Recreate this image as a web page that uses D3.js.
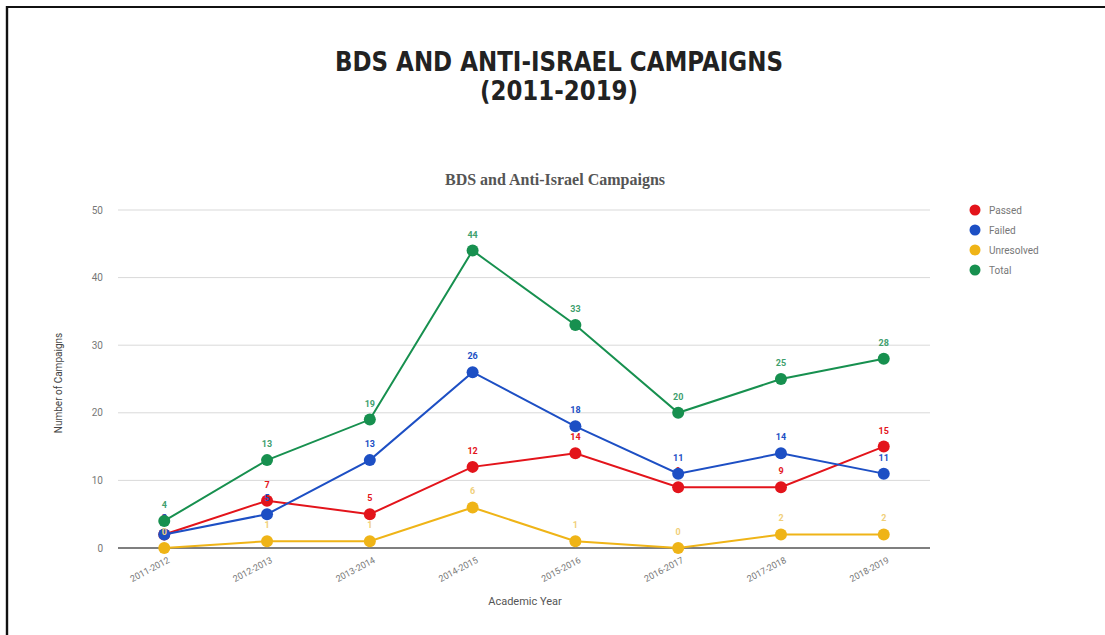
<!DOCTYPE html>
<html>
<head>
<meta charset="utf-8">
<script src="https://cdn.jsdelivr.net/npm/d3@7"></script>
<style>
  html, body { margin: 0; padding: 0; background: #fff; }
  svg { display: block; }
</style>
</head>
<body>
<svg id="chart" width="1105" height="635"></svg>
<script>
// ---- data ----
const years = ['2011-2012', '2012-2013', '2013-2014', '2014-2015', '2015-2016', '2016-2017', '2017-2018', '2018-2019'];
const passed     = [2, 7, 5, 12, 14, 9, 9, 15];
const failed     = [2, 5, 13, 26, 18, 11, 14, 11];
const unresolved = [0, 1, 1, 6, 1, 0, 2, 2];
const total      = [4, 13, 19, 44, 33, 20, 25, 28];
const yTicks     = [0, 10, 20, 30, 40, 50];

const series = [
  { name: 'Passed',     values: passed,     color: '#e3141b', label: '#e3141b' },
  { name: 'Failed',     values: failed,     color: '#1d4fc4', label: '#1d4fc4' },
  { name: 'Unresolved', values: unresolved, color: '#efb417', label: '#f0cf7a' },
  { name: 'Total',      values: total,      color: '#17904f', label: '#3fa06e' }
];

const W = 1105, H = 635;
const plot = { left: 118, right: 930, top: 210, bottom: 548 };

const svg = d3.select('#chart');

// frame (top + left only, like the cropped screenshot)
svg.append('line').attr('x1', 6).attr('x2', W).attr('y1', 7).attr('y2', 7)
  .attr('stroke', '#111').attr('stroke-width', 2);
svg.append('line').attr('x1', 7).attr('x2', 7).attr('y1', 6).attr('y2', H)
  .attr('stroke', '#111').attr('stroke-width', 2.4);

// poster title: tall condensed caps, squeezed to the widths seen in the picture
const titleFont = g => g
  .attr('text-anchor', 'middle')
  .attr('font-family', '"DejaVu Sans", sans-serif')
  .attr('font-weight', 'bold').attr('font-size', 27)
  .attr('lengthAdjust', 'spacingAndGlyphs')
  .attr('fill', '#222');
svg.append('text').call(titleFont)
  .attr('x', 559).attr('y', 71).attr('textLength', 448)
  .text('BDS AND ANTI-ISRAEL CAMPAIGNS');
svg.append('text').call(titleFont)
  .attr('x', 559).attr('y', 100).attr('textLength', 158)
  .text('(2011-2019)');

// chart title
svg.append('text')
  .attr('x', 555).attr('y', 185)
  .attr('text-anchor', 'middle')
  .attr('font-family', '"Liberation Serif", "DejaVu Serif", serif')
  .attr('font-weight', 'bold').attr('font-size', 16)
  .attr('fill', '#555')
  .text('BDS and Anti-Israel Campaigns');

// scales
const x = d3.scalePoint().domain(years).range([plot.left, plot.right]).padding(0.45);
const y = d3.scaleLinear().domain([0, 50]).range([plot.bottom, plot.top]);

// gridlines + y labels
svg.append('g').selectAll('line')
  .data(yTicks)
  .join('line')
  .attr('x1', plot.left).attr('x2', plot.right)
  .attr('y1', d => y(d)).attr('y2', d => y(d))
  .attr('stroke', d => d === 0 ? '#555' : '#d9d9d9')
  .attr('stroke-width', d => d === 0 ? 1.5 : 1);

svg.append('g').selectAll('text')
  .data(yTicks)
  .join('text')
  .attr('x', 103).attr('y', d => y(d) + 3.5)
  .attr('text-anchor', 'end')
  .attr('font-family', 'Roboto, Arial, sans-serif')
  .attr('font-size', 10).attr('fill', '#777')
  .text(d => d);

// x labels, rotated
svg.append('g').selectAll('text')
  .data(years)
  .join('text')
  .attr('transform', d => `translate(${x(d) + 6},${plot.bottom + 14}) rotate(-28)`)
  .attr('text-anchor', 'end')
  .attr('font-family', 'Roboto, Arial, sans-serif')
  .attr('font-size', 9).attr('fill', '#777')
  .text(d => d);

// axis titles
svg.append('text')
  .attr('x', 525).attr('y', 605)
  .attr('text-anchor', 'middle')
  .attr('font-family', 'Roboto, Arial, sans-serif')
  .attr('font-size', 11).attr('fill', '#555')
  .text('Academic Year');

svg.append('text')
  .attr('transform', `translate(62,${(plot.top + plot.bottom) / 2 + 4}) rotate(-90)`)
  .attr('text-anchor', 'middle')
  .attr('font-family', 'Roboto, Arial, sans-serif')
  .attr('font-size', 10).attr('fill', '#444')
  .text('Number of Campaigns');

// lines, points, value labels
const line = d3.line().x((d, i) => x(years[i])).y(d => y(d));

series.forEach(s => {
  const g = svg.append('g');
  g.append('path')
    .attr('d', line(s.values))
    .attr('fill', 'none')
    .attr('stroke', s.color)
    .attr('stroke-width', 2);
  g.selectAll('circle')
    .data(s.values)
    .join('circle')
    .attr('cx', (d, i) => x(years[i]))
    .attr('cy', d => y(d))
    .attr('r', 6)
    .attr('fill', s.color);
  g.selectAll('text')
    .data(s.values)
    .join('text')
    .attr('x', (d, i) => x(years[i]))
    .attr('y', d => y(d) - 13)
    .attr('text-anchor', 'middle')
    .attr('font-family', 'Roboto, Arial, sans-serif')
    .attr('font-size', 9).attr('font-weight', 'bold')
    .attr('fill', s.label)
    .text(d => d);
});

// legend
const legend = svg.append('g').attr('transform', 'translate(975,210)');
const li = legend.selectAll('g')
  .data(series)
  .join('g')
  .attr('transform', (d, i) => `translate(0,${i * 20})`);
li.append('circle').attr('r', 5.5).attr('fill', d => d.color);
li.append('text')
  .attr('x', 14).attr('y', 3.5)
  .attr('font-family', 'Roboto, Arial, sans-serif')
  .attr('font-size', 10).attr('fill', '#777')
  .text(d => d.name);
</script>
</body>
</html>
